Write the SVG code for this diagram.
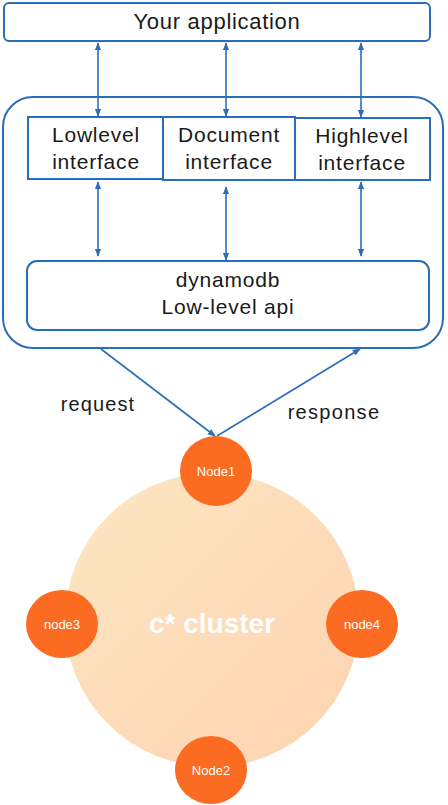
<svg xmlns="http://www.w3.org/2000/svg" width="448" height="805" viewBox="0 0 448 805">
<defs>
<style>
.box{fill:#fff;stroke:#2a6ebb;stroke-width:2}
.ln{stroke:#2a6ebb;stroke-width:1.6;fill:none}
.t{font-family:"Liberation Sans",Arial,sans-serif;fill:#1a1a1a;text-anchor:middle}
.b{font-size:21px;letter-spacing:0.8px}
.nd{fill:#fb6b22}
.nt{font-family:"Liberation Sans",Arial,sans-serif;fill:#fff;text-anchor:middle;font-size:13px}
</style>
<marker id="a" viewBox="0 0 10 10" refX="9" refY="5" markerWidth="5" markerHeight="5" orient="auto-start-reverse"><path d="M0,1 L10,5 L0,9 z" fill="#2a6ebb"/></marker>
<linearGradient id="g" x1="0" y1="0" x2="1" y2="1"><stop offset="0" stop-color="#fde6c3"/><stop offset="1" stop-color="#fdd3b1"/></linearGradient>
</defs>
<g id="app"><rect class="box" x="4" y="3" width="426" height="38" rx="5"/><text class="t" x="217" y="29" font-size="22" letter-spacing="0.7">Your application</text></g>
<g id="container"><rect class="box" x="3" y="97" width="440" height="251" rx="30"/></g>
<g id="lowlevel"><rect class="box" x="28" y="117" width="135" height="62"/><text class="t b" x="96" y="142">Lowlevel</text><text class="t b" x="96" y="169">interface</text></g>
<g id="document"><rect class="box" x="163" y="117" width="132" height="63"/><text class="t b" x="229" y="142">Document</text><text class="t b" x="229" y="169">interface</text></g>
<g id="highlevel"><rect class="box" x="295" y="118" width="135" height="62"/><text class="t b" x="362" y="143">Highlevel</text><text class="t b" x="362" y="170">interface</text></g>
<g id="dynamodb"><rect class="box" x="27" y="261" width="402" height="69" rx="10"/><text class="t b" x="228" y="287">dynamodb</text><text class="t b" x="228" y="314">Low-level api</text></g>
<g id="connectors">
<line class="ln" x1="98" y1="43" x2="98" y2="116" marker-start="url(#a)" marker-end="url(#a)"/>
<line class="ln" x1="226" y1="43" x2="226" y2="116" marker-start="url(#a)" marker-end="url(#a)"/>
<line class="ln" x1="361" y1="43" x2="361" y2="117" marker-start="url(#a)" marker-end="url(#a)"/>
<line class="ln" x1="98" y1="182" x2="98" y2="256" marker-start="url(#a)" marker-end="url(#a)"/>
<line class="ln" x1="226" y1="187" x2="226" y2="260" marker-start="url(#a)" marker-end="url(#a)"/>
<line class="ln" x1="361" y1="182" x2="361" y2="256" marker-start="url(#a)" marker-end="url(#a)"/>
<line class="ln" x1="101" y1="349" x2="215" y2="436" marker-end="url(#a)"/>
<line class="ln" x1="217" y1="436" x2="360" y2="349" marker-end="url(#a)"/>
<text class="t" x="98" y="411" font-size="20" letter-spacing="1.1">request</text>
<text class="t" x="334" y="419" font-size="20" letter-spacing="1.3">response</text>
</g>
<g id="cluster"><circle cx="212" cy="620" r="147" fill="url(#g)"/><text x="212" y="633" font-family="'Liberation Sans',Arial,sans-serif" font-size="28" font-weight="bold" fill="#fff" text-anchor="middle">c* cluster</text></g>
<g id="node1"><ellipse class="nd" cx="216" cy="471" rx="36" ry="35"/><text class="nt" x="216" y="476">Node1</text></g>
<g id="node3"><ellipse class="nd" cx="62" cy="624" rx="36" ry="34"/><text class="nt" x="62" y="629">node3</text></g>
<g id="node4"><ellipse class="nd" cx="362" cy="624" rx="36" ry="34"/><text class="nt" x="362" y="629">node4</text></g>
<g id="node2"><ellipse class="nd" cx="211" cy="770" rx="36" ry="34"/><text class="nt" x="211" y="775">Node2</text></g>
</svg>
